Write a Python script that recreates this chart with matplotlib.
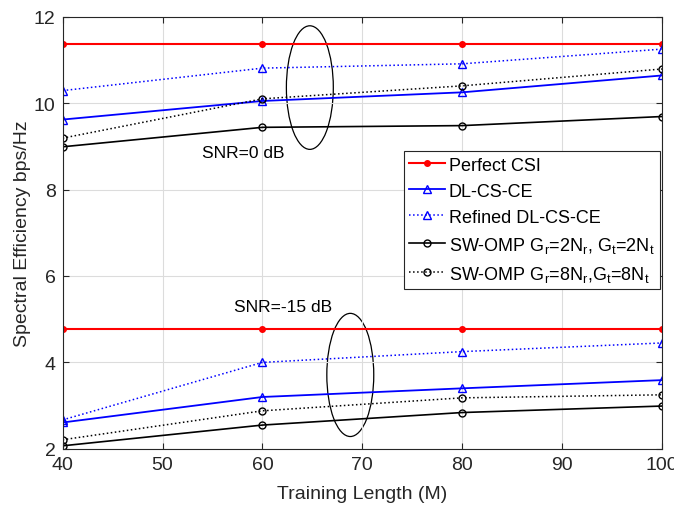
import numpy as np
import matplotlib
matplotlib.use('Agg')
import matplotlib.pyplot as plt
from matplotlib.patches import Ellipse

plt.rcParams['font.family'] = ['Liberation Sans', 'DejaVu Sans']
plt.rcParams['mathtext.fontset'] = 'custom'
plt.rcParams['mathtext.rm'] = 'Liberation Sans'

M = [40, 60, 80, 100]

# SNR = 0 dB
perfect_0 = [11.36, 11.36, 11.36, 11.36]
dl_0 = [9.62, 10.05, 10.25, 10.64]
refined_0 = [10.29, 10.81, 10.91, 11.25]
sw2_0 = [8.99, 9.44, 9.48, 9.69]
sw8_0 = [9.19, 10.10, 10.40, 10.79]

# SNR = -15 dB
perfect_15 = [4.77, 4.77, 4.77, 4.77]
dl_15 = [2.61, 3.20, 3.40, 3.59]
refined_15 = [2.67, 4.00, 4.25, 4.45]
sw2_15 = [2.07, 2.55, 2.84, 2.99]
sw8_15 = [2.21, 2.88, 3.18, 3.25]

labels = ['Perfect CSI', 'DL-CS-CE', 'Refined DL-CS-CE',
          r'SW-OMP G$_\mathregular{r}$=2N$_\mathregular{r}$, G$_\mathregular{t}$=2N$_\mathregular{t}$',
          r'SW-OMP G$_\mathregular{r}$=8N$_\mathregular{r}$,G$_\mathregular{t}$=8N$_\mathregular{t}$']

fig = plt.figure(figsize=(6.74, 5.06), dpi=100)
ax = fig.add_axes([0.093, 0.111, 0.889, 0.854])

styles = [
    dict(color='red', ls='-', marker='.', ms=8, lw=1.5),
    dict(color='blue', ls='-', marker='^', ms=6, lw=1.3, mfc='none'),
    dict(color='blue', ls=':', marker='^', ms=6, lw=1.1, mfc='none'),
    dict(color='black', ls='-', marker='o', ms=5, lw=1.2, mfc='none'),
    dict(color='black', ls=':', marker='o', ms=5, lw=1.1, mfc='none'),
]

sets0 = [perfect_0, dl_0, refined_0, sw2_0, sw8_0]
sets15 = [perfect_15, dl_15, refined_15, sw2_15, sw8_15]
for i in range(5):
    ax.plot(M, sets0[i], label=labels[i], **styles[i])
    ax.plot(M, sets15[i], **styles[i])

ax.add_patch(Ellipse((64.75, 10.36), 4.7, 2.86, fill=False, ec='black', lw=0.9))
ax.add_patch(Ellipse((68.8, 3.71), 4.7, 2.85, fill=False, ec='black', lw=0.9))
ax.text(58.1, 8.85, 'SNR=0 dB', ha='center', va='center', fontsize=12.5)
ax.text(62.1, 5.3, 'SNR=-15 dB', ha='center', va='center', fontsize=12.5)

ax.set_xlim(40, 100)
ax.set_ylim(2, 12)
ax.set_xticks(np.arange(40, 101, 10))
ax.set_yticks(np.arange(2, 13, 2))
ax.tick_params(direction='in', labelsize=14, colors='#262626', top=True, right=True, length=4, pad=5)
ax.grid(True, color='#dcdcdc', lw=0.8)
for s in ax.spines.values():
    s.set_color('#262626')
    s.set_linewidth(0.8)
ax.set_xlabel('Training Length (M)', fontsize=14, color='#262626', labelpad=9)
ax.set_ylabel('Spectral Efficiency bps/Hz', fontsize=14, color='#262626', labelpad=2)

leg = ax.legend(loc='upper left', bbox_to_anchor=(0.569, 0.689), fontsize=13,
                fancybox=False, framealpha=1, edgecolor='#262626',
                handlelength=2.0, handletextpad=0.2, borderpad=0.3, labelspacing=0.5,
                borderaxespad=0)
leg.get_frame().set_linewidth(0.8)

fig.savefig('out.png', dpi=100)
